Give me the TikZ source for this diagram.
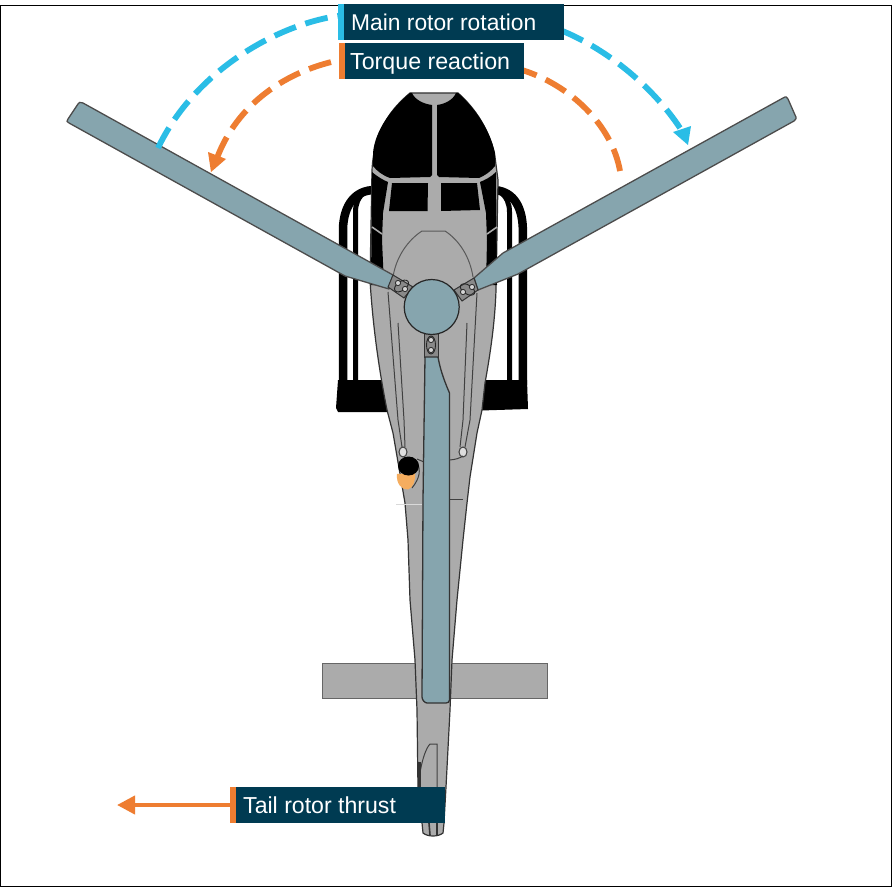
\documentclass[tikz,border=0pt]{standalone}
\usepackage{fontspec}
\setmainfont{Liberation Sans}
\usetikzlibrary{arrows.meta}
\definecolor{bladecol}{HTML}{86A5AE}
\definecolor{bodycol}{HTML}{ABABAB}
\definecolor{labelcol}{HTML}{003B52}
\definecolor{cyancol}{HTML}{2ABDE6}
\definecolor{orangecol}{HTML}{EE7D31}
\definecolor{skincol}{HTML}{F5AD5F}
\tikzset{
  bladeshape/.style={fill=bladecol,draw=black!70,line width=1.3pt,line join=round},
  bodyshape/.style={fill=bodycol,draw=black!80,line width=1.2pt},
  detail/.style={draw=black!75,line width=1pt},
  blackpart/.style={fill=black,draw=none},
  tube/.style={draw=black,line cap=butt},
  gripshape/.style={fill=bodycol!80!black,draw=black!80,line width=1pt},
  labelbox/.style={fill=labelcol,draw=none,anchor=north west,minimum height=36pt,inner sep=0pt},
  labeltext/.style={anchor=base west,inner sep=0pt,text=white},
  dashcurve/.style={line width=5.8pt,dash pattern=on 23pt off 10pt},
  headtip/.style={-{Triangle[length=18pt,width=18pt]}}
}
\begin{document}
\begin{tikzpicture}[x=1pt,y=-1pt]
\useasboundingbox (0,0) rectangle (893,888);
\fill[white] (0,0) rectangle (893,888);
\draw[black,line width=1pt] (0.5,5.5) rectangle (891.5,886.5);

% skids
\draw[tube,line width=8.5pt] (375,190) .. controls (355,190) and (344,205) .. (343,228) -- (343,385);
\draw[tube,line width=5pt] (355.5,385) -- (355.5,212) .. controls (355.5,204) and (358,197) .. (365,192);
\draw[tube,line width=8.5pt] (492,190) .. controls (512,190) and (522,205) .. (522.8,228) -- (522.8,385);
\draw[tube,line width=5pt] (509.5,385) -- (509.5,212) .. controls (509.5,204) and (507,197) .. (500,192);
\fill[blackpart] (338,380) -- (400,380) -- (400,412) -- (338,412) -- (336,408) -- cycle;
\fill[blackpart] (465,380) -- (527,380) -- (528,409) -- (465,411) -- cycle;

% stabiliser
\draw[fill=bodycol,draw=black!60,line width=1pt] (322.5,663.5) rectangle (547,698);

% fuselage
\draw[bodyshape] (410,93) .. controls (392,108) and (374,130) .. (372,170)
  -- (370,280) .. controls (373,330) and (380,375) .. (387,410)
  -- (393,433) -- (405,503) -- (408,540) -- (410,600) -- (415,660) -- (417,710) -- (418,790)
  -- (422,823) -- (423,833) .. controls (428,837) and (438,837) .. (443,833)
  -- (444,823) -- (446,787) -- (450,710) -- (452,660) -- (457,600) -- (463,540) -- (467,503) -- (470,477)
  -- (477,433) -- (482,410) -- (485,383) .. controls (491,350) and (495,320) .. (496,290)
  -- (498,180) -- (495,157) .. controls (490,130) and (475,108) .. (458,93) -- cycle;

% windshield panes
\fill[blackpart] (412,93) .. controls (415,100) and (424,104) .. (432,105)
  -- (432,175) -- (430,177) -- (390,178) .. controls (382,175) and (377,171) .. (373,166)
  -- (373,153) .. controls (375,130) and (392,108) .. (410,93) -- cycle;
\fill[blackpart] (456,93) .. controls (453,100) and (445,104) .. (437,105)
  -- (437,175) -- (439,177) -- (479,178) .. controls (486,175) and (491,171) .. (495,166)
  -- (495,153) .. controls (490,130) and (475,108) .. (458,93) -- cycle;
% side windows
\fill[blackpart] (392,183) -- (428,183) -- (427.5,211) -- (389,211) -- cycle;
\fill[blackpart] (441,183) -- (477,183) -- (480,210) -- (441,211) -- cycle;
% side strips
\fill[blackpart] (372,172) .. controls (378,177) and (383,180) .. (388,182)
  -- (383,213) -- (382,240) -- (384,285) -- (371,285) -- cycle;
\fill[blackpart] (496,172) .. controls (491,177) and (485,180) .. (480,182)
  -- (486,213) -- (487,240) -- (486,285) -- (497,285) -- cycle;
\draw[bodycol,line width=1.6pt] (372,227) -- (382,234);
\draw[bodycol,line width=1.6pt] (497,227) -- (487,234);
% dome line
\draw[detail,black!65] (393,277) .. controls (396,257) and (408,240) .. (422,231) -- (445,231)
  .. controls (459,240) and (470,257) .. (473,277);
% long lines
\draw[detail] (388,292) -- (398,420) -- (402,447);
\draw[detail] (398,323) -- (404,420) -- (405,447);
\draw[detail] (477,293) -- (470,420) -- (465,447);
\draw[detail] (467,323) -- (463,420) -- (460,447);
\draw[detail,fill=white!60!bodycol] (403,452) ellipse (4pt and 5pt);
\draw[detail,fill=white!60!bodycol] (463,452) ellipse (4pt and 5pt);
\draw[detail] (448,460) .. controls (455,460) and (460,458) .. (463,456);
\draw[detail] (417,459) -- (424,462);
\draw[detail] (450,499) -- (463,499);
\draw[black!15,line width=1pt] (396,504) -- (422,504);
% pilot
\draw[detail] (417,462) .. controls (421,470) and (420,478) .. (412,488);
\fill[skincol] (397,474) .. controls (396,484) and (402,490) .. (408,489.5) .. controls (413,488) and (416,480) .. (415,473) -- cycle;
\fill[black] (408.5,466) ellipse (10.5pt and 9.5pt);
% tail details
\draw[detail] (420,773) .. controls (422,760) and (426,748) .. (430,744) -- (437,744) -- (437,787);
\draw[black!80,line width=3pt] (419,762) -- (419,787);
\draw[black!80,line width=1.6pt] (429,823) -- (430,835);
\draw[black!80,line width=1.6pt] (437,823) -- (437,835);

% blades
\draw[bladeshape] (68,119) .. controls (66,121) and (67,122) .. (69,123) -- (345,276)
  -- (389,289) -- (393,275) -- (83,103) .. controls (80,102) and (79,102) .. (78,104) -- cycle;
\draw[bladeshape] (795,115) .. controls (797,118) and (796,120) .. (794,121) -- (518,274)
  -- (478,290) -- (474,278) -- (503,253) -- (783,98) .. controls (786,96) and (787,97) .. (788,99) -- cycle;
% grips
\draw[gripshape] (388,287) -- (393,275) -- (413,287) -- (404,298) -- cycle;
\draw[gripshape] (474,278) -- (478,290) -- (462,301) -- (454,290) -- cycle;
\draw[gripshape] (424,333) -- (438,333) -- (438,357) -- (424,357) -- cycle;
\draw[black!85,line width=0.9pt] (401.5,286) ellipse [x radius=8pt,y radius=4.5pt,rotate=35];
\draw[black!85,line width=0.9pt] (467.5,289.5) ellipse [x radius=8pt,y radius=4.5pt,rotate=-32];
\draw[black!85,line width=0.9pt] (431,345) ellipse [x radius=4.5pt,y radius=9pt];
\foreach \p/\q in {398/283,405/289,472/287,463/292,431/340,431/350}{
  \draw[black!85,line width=0.8pt,fill=white!50!bodycol] (\p,\q) circle (2.6pt);
}
% vertical blade
\draw[bladeshape,draw=black!80] (425,357) -- (438,357) .. controls (440,368) and (443,378) .. (449.5,393)
  -- (449.5,700) .. controls (449.5,702) and (448,703) .. (446,703) -- (427,703)
  .. controls (425,703) and (422,700) .. (422,697) -- (423,500) -- cycle;
% hub
\draw[fill=bladecol,draw=black!85,line width=1.2pt] (431.7,307) circle (27.5pt);

% dashed arcs
\coordinate (bluestart) at (158,148);
\coordinate (blueend) at (688,145);
\coordinate (orstart) at (620,171);
\coordinate (orend) at (211,172);
\coordinate (tailstart) at (232,805);
\coordinate (tailend) at (117,805);
\draw[dashcurve,cyancol] (bluestart) .. controls (195,70) and (280,22) .. (345,15);
\draw[dashcurve,cyancol] (680,128) .. controls (655,90) and (610,50) .. (560,30);
\fill[cyancol] (blueend) -- (673,132) -- (691,126) -- cycle;
\draw[dashcurve,orangecol] (orstart) .. controls (612,125) and (570,85) .. (522,70);
\draw[dashcurve,orangecol] (217,158) .. controls (237,105) and (285,70) .. (345,59);
\fill[orangecol] (orend) -- (208,152) -- (226,159) -- cycle;
\draw[orangecol,line width=4pt,headtip] (tailstart) -- (tailend);

% labels
\fill[cyancol] (338,4) rectangle (344,40);
\node[labelbox,minimum width=220pt] (mainlabel) at (344,4) {};
\node[labeltext,font=\fontsize{22.8pt}{26pt}\selectfont] (maintext) at (351,31) {Main rotor rotation};
\fill[orangecol] (338.5,43) rectangle (345,79);
\node[labelbox,minimum width=179pt] (torquelabel) at (345,43) {};
\node[labeltext,font=\fontsize{23.2pt}{26pt}\selectfont] (torquetext) at (350,70) {Torque reaction};
\fill[orangecol] (230,787) rectangle (236,823);
\node[labelbox,minimum width=209pt] (taillabel) at (236,787) {};
\node[labeltext,font=\fontsize{23.1pt}{26pt}\selectfont] (tailtext) at (243,813) {Tail rotor thrust};
\end{tikzpicture}
\end{document}
